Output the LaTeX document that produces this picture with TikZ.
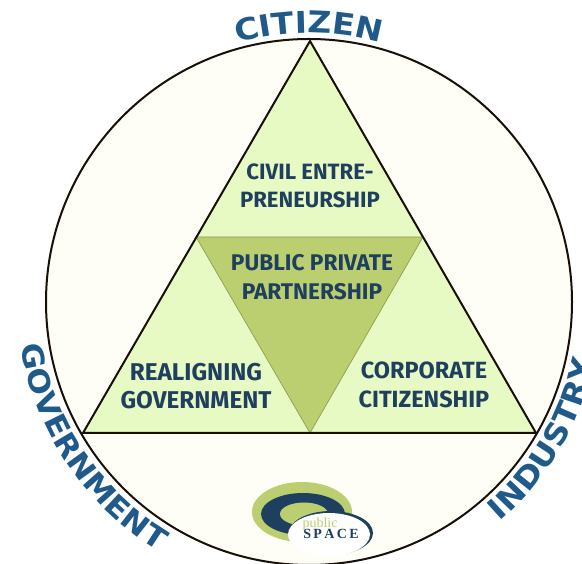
\documentclass[tikz,border=0pt]{standalone}
\usepackage{fontspec}
\usetikzlibrary{decorations.text}
\newfontfamily\innerfont{Fira Sans}
\newfontfamily\outerfont[FakeStretch=1.1]{DejaVu Sans}
\newfontfamily\logofont{Liberation Serif}
\definecolor{ringfill}{HTML}{FEFEF6}
\definecolor{trifill}{HTML}{E8FAC4}
\definecolor{midfill}{HTML}{BCCF70}
\definecolor{innertext}{HTML}{1F3F5E}
\definecolor{outertext}{HTML}{1F5A8A}
\tikzset{
  inlabel/.style={text=innertext,align=center,inner sep=0pt},
  outline/.style={draw=black!88!brown,line width=1.5pt},
}
\newcommand{\arcfont}{\outerfont\bfseries\fontsize{22.5}{22.5}\selectfont\color{outertext}}
\newcommand{\arcfontb}{\outerfont\bfseries\fontsize{22}{22}\selectfont\color{outertext}}
\newcommand{\lblfont}[1]{\innerfont\bfseries\fontsize{#1}{21.5}\selectfont}
\begin{document}
\begin{tikzpicture}[x=0.75pt,y=0.75pt]
\useasboundingbox (0,0) rectangle (582,564);
\clip (0,0) rectangle (582,564);
\coordinate (c) at (309,262);
\coordinate (apex) at (310,523);
\coordinate (bl) at (83,131);
\coordinate (br) at (536,131);
\coordinate (ml) at (196,327);
\coordinate (mr) at (423,327);
\coordinate (mb) at (310,131);
\fill[ringfill] (c) circle[radius=263];
\filldraw[fill=trifill,draw=none] (apex) -- (br) -- (bl) -- cycle;
\filldraw[fill=midfill,draw=midfill!75!black,line width=0.5pt] (ml) -- (mr) -- (mb) -- cycle;
\draw[outline] (c) circle[radius=263];
\draw[outline,line join=miter] (apex) -- (br) -- (bl) -- cycle;
% logo
\fill[midfill] (302,52) ellipse[x radius=50,y radius=30];
\fill[innertext] (303,50) ellipse[x radius=42,y radius=21];
\fill[midfill] (304,50) ellipse[x radius=24,y radius=11.5];
\fill[innertext] (331,31) ellipse[x radius=42,y radius=22];
\fill[white] (329,29.5) ellipse[x radius=41,y radius=21.5];
\node[inner sep=0pt,text=midfill,font=\logofont\fontsize{10.5}{10}\selectfont] (logoa) at (320,40) {public};
\node[inner sep=0pt,text=innertext,font=\logofont\bfseries\fontsize{10.5}{10}\selectfont] (logob) at (331,30) {S\,P\,A\,C\,E};
% labels
\node[inlabel,font=\lblfont{16.6}] (civil) at (310,378) {CIVIL ENTRE-\\PRENEURSHIP};
\node[inlabel,font=\lblfont{17}] (ppp) at (312,287) {PUBLIC PRIVATE\\PARTNERSHIP};
\node[inlabel,font=\lblfont{18.2}] (realign) at (196,178) {REALIGNING\\GOVERNMENT};
\node[inlabel,font=\lblfont{17.6}] (corp) at (424,179) {CORPORATE\\CITIZENSHIP};
% arc labels
\path[decorate,decoration={text along path,text align=center,text={|\arcfont|CITIZEN}}]
  (309,262) ++(109:269) arc[start angle=109,end angle=71,radius=269];
\path[decorate,decoration={text along path,text align=left,text={|\arcfontb|GOVERNMENT}}]
  (309,262) ++(188.5:291) arc[start angle=188.5,end angle=243,radius=291];
\path[decorate,decoration={text along path,text align=left,text={|\arcfont|INDUSTRY}}]
  (309,262) ++(-49:291) arc[start angle=-49,end angle=-5,radius=291];
\end{tikzpicture}
\end{document}
